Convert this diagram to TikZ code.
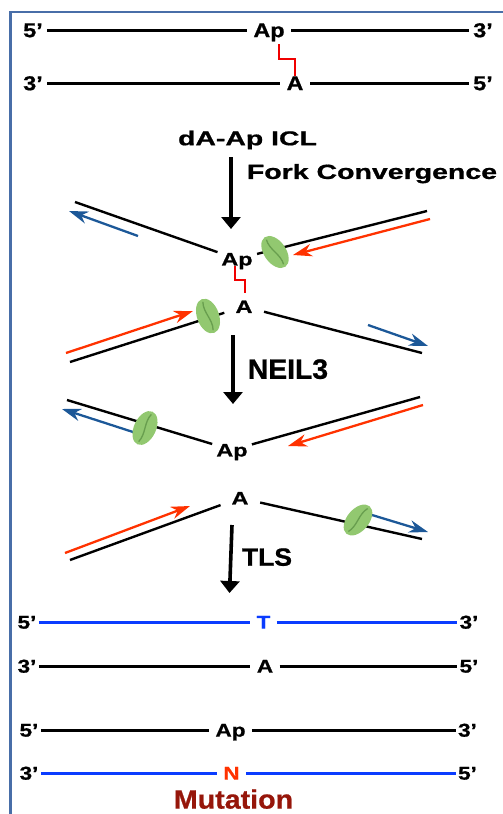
\documentclass[tikz,border=0pt]{standalone}
\usepackage{fontspec}
\setmainfont{Liberation Sans}[BoldFeatures={FakeBold=0.8}]
\usetikzlibrary{arrows.meta,calc}
\definecolor{frameblue}{RGB}{72,110,168}
\definecolor{leadred}{RGB}{255,50,0}
\definecolor{lagblue}{RGB}{28,88,152}
\definecolor{newblue}{RGB}{10,60,255}
\definecolor{xlred}{RGB}{240,0,0}
\definecolor{helfill}{RGB}{146,200,112}
\definecolor{helline}{RGB}{104,158,78}
\definecolor{mutred}{RGB}{150,22,10}
% horizontally widened text
\newcommand\widetext[2]{\scalebox{#1}[1]{#2}}
\begin{document}
\begin{tikzpicture}[x=1pt,y=-1pt,
  topend/.style={font=\fontsize{20}{20}\selectfont\bfseries, text height=14.3pt,
    text depth=0pt, inner ysep=0pt, inner xsep=4.5pt},
  topbase/.style={topend, inner xsep=6.5pt},
  forkbase/.style={circle, minimum size=41pt, inner sep=0pt,
    font=\fontsize{18}{18}\selectfont\bfseries, text height=12.9pt, text depth=0pt},
  botend/.style={font=\fontsize{18.5}{18.5}\selectfont\bfseries, text height=13.2pt,
    text depth=0pt, inner ysep=0pt, inner xsep=2.2pt},
  botbase/.style={botend, inner xsep=6.2pt},
  steplabel/.style={font=\bfseries, inner sep=0pt, text depth=0pt},
  strand/.style={line width=3pt, black},
  newstrand/.style={line width=3pt, newblue},
  forkstrand/.style={line width=2.4pt, black},
  xlink/.style={line width=1.6pt, xlred},
  lead/.style={line width=2.3pt, leadred, -{Stealth[length=19pt,width=12.5pt,inset=6pt]}},
  lag/.style={line width=2.3pt, lagblue, -{Stealth[length=19pt,width=12.5pt,inset=6pt]}},
  bigarrow/.style={line width=3.6pt, -{Triangle[length=12pt,width=19pt]}},
  helicase/.pic={
    \fill[helfill] (0,0) ellipse (11 and 18);
    \draw[helline, line width=1.3pt] (0,-15) .. controls (-3.5,-5) and (3.5,5) .. (0,15);
  }]
\useasboundingbox (0,0) rectangle (503,814);

% frame
\draw[frameblue, line width=2.6pt] (10.5,816) -- (10.5,12) -- (505,12);

% ---- cross-linked duplex ----
\node[topend] (t5a) at (33,30) {\widetext{1.17}{5’}};
\node[topbase] (tAp) at (269,30) {\widetext{1.17}{Ap}};
\node[topend] (t3a) at (483,30) {\widetext{1.17}{3’}};
\node[topend] (t3b) at (33,83) {\widetext{1.17}{3’}};
\node[topbase] (tA) at (295,83) {\widetext{1.17}{A}};
\node[topend] (t5b) at (483,83) {\widetext{1.17}{5’}};
\draw[strand] (t5a) -- (tAp);
\draw[strand] (tAp) -- (t3a);
\draw[strand] (t3b) -- (tA);
\draw[strand] (tA) -- (t5b);
\draw[xlink] ($(tAp.center)+(10,14)$) -- ++(0,15) -| (tA.north);

% ---- step 1 ----
\node[steplabel, font=\fontsize{20}{20}\selectfont\bfseries] (lab1) at (247.5,138)
  {\widetext{1.42}{dA-Ap ICL}};
\node[steplabel, font=\fontsize{20.5}{20.5}\selectfont\bfseries] (lab2) at (372,171.5)
  {\widetext{1.39}{Fork Convergence}};
\coordinate (s1a) at (231,157);
\coordinate (s1b) at (231,229);
\draw[bigarrow] (s1a) -- (s1b);

% ---- converged forks ----
\node[forkbase] (fAp) at (237,259) {\widetext{1.3}{Ap}};
\node[forkbase] (fA) at (244,306.5) {\widetext{1.3}{A}};
\coordinate (f1ul) at (75,202);
\coordinate (f1ur) at (427,211);
\coordinate (f1ll) at (70,362);
\coordinate (f1lr) at (422,353);
\draw[forkstrand] (f1ul) -- (fAp);
\draw[forkstrand] (f1ur) -- (fAp);
\draw[forkstrand] (f1ll) -- (fA);
\draw[forkstrand] (f1lr) -- (fA);
\draw[xlink, line width=1.3pt] ($(fAp.center)+(-2,6.5)$) -- ++(0,14.5) -| ($(fA.center)+(1,-14)$);
\draw[lag]  (138,236) -- (69,211);
\draw[lead] (430,219) -- (293,255);
\draw[lead] (66,353) -- (193,311);
\draw[lag]  (368,325) -- (428,346);
\pic[rotate=35] at (275,252) {helicase};
\pic[rotate=20] at (208,316) {helicase};

% ---- step 2 ----
\coordinate (s2a) at (233,335);
\coordinate (s2b) at (233,404);
\draw[bigarrow] (s2a) -- (s2b);
\node[steplabel, font=\fontsize{28}{28}\selectfont\bfseries] (lab3) at (288,369)
  {\widetext{1.01}{NEIL3}};

% ---- unhooked forks ----
\node[forkbase] (gAp) at (232,450) {\widetext{1.3}{Ap}};
\node[forkbase] (gA) at (240,498) {\widetext{1.3}{A}};
\coordinate (f2ul) at (67,400);
\coordinate (f2ur) at (420,397);
\coordinate (f2ll) at (70,560);
\coordinate (f2lr) at (422,539);
\draw[forkstrand] (f2ul) -- (gAp);
\draw[forkstrand] (f2ur) -- (gAp);
\draw[forkstrand] (f2ll) -- (gA);
\draw[forkstrand] (f2lr) -- (gA);
\draw[lag]  (133,432) -- (62,409);
\draw[lead] (423,405) -- (288,446);
\draw[lead] (65,553) -- (190,506);
\draw[lag]  (372,515) -- (428,532);
\pic[rotate=-25] at (145,428) {helicase};
\pic[rotate=-40] at (358,520) {helicase};

% ---- step 3 ----
\coordinate (s3a) at (232,525);
\coordinate (s3b) at (229.5,593);
\draw[bigarrow] (s3a) -- (s3b);
\node[steplabel, font=\fontsize{25}{25}\selectfont\bfseries] (lab4) at (267,557)
  {\widetext{1.06}{TLS}};

% ---- products ----
\node[botend] (b5a) at (27,622) {\widetext{1.22}{5’}};
\node[botbase, text=newblue] (bT) at (263.5,622) {\widetext{1.22}{T}};
\node[botend] (b3a) at (469,622) {\widetext{1.22}{3’}};
\draw[newstrand] (b5a) -- (bT);
\draw[newstrand] (bT) -- (b3a);

\node[botend] (b3b) at (27,666) {\widetext{1.22}{3’}};
\node[botbase] (bA) at (265,666) {\widetext{1.22}{A}};
\node[botend] (b5b) at (469,666) {\widetext{1.22}{5’}};
\draw[strand] (b3b) -- (bA);
\draw[strand] (bA) -- (b5b);

\node[botend] (b5c) at (29,730) {\widetext{1.22}{5’}};
\node[botbase] (bAp) at (230.5,730) {\widetext{1.22}{Ap}};
\node[botend] (b3c) at (467.5,730) {\widetext{1.22}{3’}};
\draw[strand] (b5c) -- (bAp);
\draw[strand] (bAp) -- (b3c);

\node[botend] (b3d) at (29,773) {\widetext{1.22}{3’}};
\node[botbase, text=leadred] (bN) at (231.5,773) {\widetext{1.22}{N}};
\node[botend] (b5d) at (467.5,773) {\widetext{1.22}{5’}};
\draw[newstrand] (b3d) -- (bN);
\draw[newstrand] (bN) -- (b5d);

\node[steplabel, text=mutred, font=\fontsize{26.5}{26.5}\selectfont\bfseries] (mut)
  at (233.5,799) {\widetext{1.08}{Mutation}};
\end{tikzpicture}
\end{document}
